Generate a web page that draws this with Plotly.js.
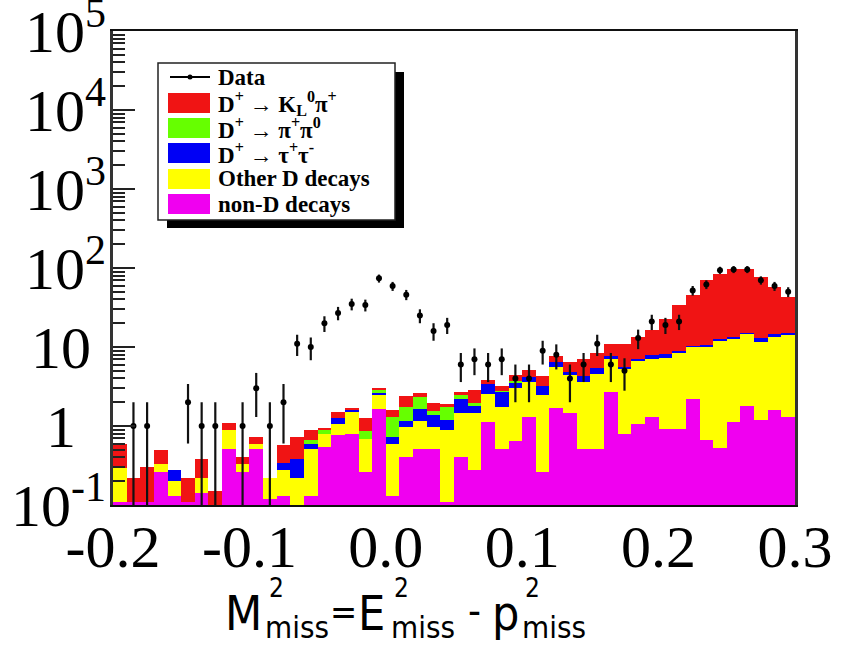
<!DOCTYPE html>
<html>
<head>
<meta charset="utf-8">
<script src="https://cdn.plot.ly/plotly-3.0.1.min.js"></script>
<style>html,body{margin:0;padding:0;background:#fff;}#chart{width:842px;height:648px;}</style>
</head>
<body>
<div id="chart"></div>
<script>
// Bin centres of the 50 histogram bins (width 0.01)
const binCenter = [-0.195,-0.185,-0.175,-0.165,-0.155,-0.145,-0.135,-0.125,-0.115,-0.105,
  -0.095,-0.085,-0.075,-0.065,-0.055,-0.045,-0.035,-0.025,-0.015,-0.005,
  0.005,0.015,0.025,0.035,0.045,0.055,0.065,0.075,0.085,0.095,
  0.105,0.115,0.125,0.135,0.145,0.155,0.165,0.175,0.185,0.195,
  0.205,0.215,0.225,0.235,0.245,0.255,0.265,0.275,0.285,0.295];

// MC components (stack order bottom -> top)
const nonD = [0.11,0.11,0.11,0.26,0.13,0.11,0.14,0,0.51,0.26,
  0.51,0.12,0.13,0,0.13,0.55,0.77,0.80,0.26,1.63,
  0.13,0.40,0.51,0.51,0.11,0.41,0.28,1.13,0.51,0.65,
  1.31,0.26,1.67,1.45,0.51,0.51,2.70,0.80,1.07,1.31,
  0.91,0.91,2.18,0.67,0.52,1.13,1.79,1.19,1.60,1.31];
const otherD = [0.18,0,0,0.07,0.07,0,0.08,0,0.38,0.07,
  0.08,0.10,0.15,0.22,0.38,0.235,0.28,0.72,0.43,0.82,
  0.46,0.58,0.64,0.47,0.78,1.04,1.17,1.41,1.25,2.35,
  2.33,2.21,3.93,2.95,3.13,4.09,4.30,4.50,5.53,5.79,
  6.39,7.54,7.72,9.43,11.38,11.47,12.71,10.51,11.9,12.89];
const tauNu = [0,0,0,0,0.08,0,0,0,0,0,
  0,0,0.06,0.16,0.08,0,0.20,0.08,0,0.19,
  0.13,0.18,0.50,0.40,0.31,0.75,0.35,0.86,0.96,0.53,
  0.56,0.77,0.80,0.46,0.66,0.85,0.80,0.30,0.50,0.80,
  0.90,0.55,0.45,0.50,0.60,0.60,0.70,1.20,1.00,0.70];
const piPi0 = [0,0,0,0,0,0,0,0,0,0,
  0,0,0,0,0.075,0.105,0,0,0.17,0.21,
  0.58,0.57,0.70,0.16,0.52,0.30,0.14,0.05,0.05,0.21,
  0,0,0,0,0,0,0,0,0,0,
  0,0,0,0,0,0,0,0,0,0];
const kLPi = [0.31,0.11,0.19,0.16,0,0.11,0.16,0.15,0.19,0.08,
  0.13,0,0.24,0.34,0.225,0.06,0.27,0.10,0.39,0.15,
  0.30,0.67,0.24,0.40,0.18,0.20,0.91,0.34,0.42,0.66,
  0.90,1.06,1.30,1.64,2.70,2.85,3.10,5.20,6.10,8.50,
  14.2,25.3,35.7,59.4,72.5,85.3,83.3,65.1,43.5,28.4];

// Data
const dataCounts = [null,1,1,null,null,2,1,1,null,1,
  3,1,2,11,10,20,27,35,34,74,
  59,46,25,16,19,6,7,6,7,4,
  4,9,8,4,6,11,6,5,13,21,
  19,21,52,62,94,96,96,70,59,50];
const dataErr = [null,1,1,null,null,1.4,1,1,null,1,
  1.7,1,1.4,3.3,3.2,4.5,5.2,5.9,5.8,8.6,
  7.7,6.8,5,4,4.4,2.4,2.6,2.4,2.6,2,
  2,3,2.8,2,2.4,3.3,2.4,2.2,3.6,4.6,
  4.4,4.6,7.2,7.9,9.7,9.8,9.8,8.4,7.7,7.1];

const xTickVals = [-0.2,-0.1,0,0.1,0.2,0.3];
const xTickText = ['-0.2','-0.1','0.0','0.1','0.2','0.3'];
const yTickVals = [0.1,1,10,100,1000,10000,100000];
const yTickText = ['10<sup>-1</sup>','1\u2007','10\u00a0','10<sup>2</sup>','10<sup>3</sup>','10<sup>4</sup>','10<sup>5</sup>'];

const legendLabels = ['Data',
  'D<sup>+</sup> → K<sub>L</sub><sup>0</sup>π<sup>+</sup>',
  'D<sup>+</sup> → π<sup>+</sup>π<sup>0</sup>',
  'D<sup>+</sup> → τ<sup>+</sup>τ<sup>-</sup>',
  'Other D decays',
  'non-D decays'];
const colors = {kl:'#f01414', pp:'#66ff00', tau:'#0000f5', other:'#ffff00', nond:'#f000f0'};

// cumulative stack levels
function cum(arrs){
  return binCenter.map((_,i)=>{let s=0; arrs.forEach(a=>s+=a[i]); return s>0?s:null;});
}
const lvM = cum([nonD]);
const lvY = cum([nonD,otherD]);
const lvB = cum([nonD,otherD,tauNu]);
const lvG = cum([nonD,otherD,tauNu,piPi0]);
const lvR = cum([nonD,otherD,tauNu,piPi0,kLPi]);

function barTrace(y,color,name){
  return {type:'bar', x:binCenter, y:y, width:0.01, name:name,
    marker:{color:color, line:{width:0}}, showlegend:false, hoverinfo:'skip'};
}
const traces = [
  barTrace(lvR,colors.kl,'KL'),
  barTrace(lvG,colors.pp,'pipi0'),
  barTrace(lvB,colors.tau,'taunu'),
  barTrace(lvY,colors.other,'Other D'),
  barTrace(lvM,colors.nond,'non-D'),
  {type:'scatter', mode:'markers', x:binCenter, y:dataCounts, name:'Data', showlegend:false,
   marker:{color:'#000', size:6},
   error_y:{type:'data', array:dataErr, visible:true, color:'#111', thickness:2.2, width:0}}
];

// plot area in pixels: x 113..795, y 31..505
const L=113,R=795,T=31,B=505;
const px=(p)=>(p-L)/(R-L);
const py=(p)=>(B-p)/(B-T);

const minorVals=[];
for(let e=-1;e<5;e++){for(let d=2;d<=9;d++){minorVals.push(d*Math.pow(10,e));}}

const shapes=[];
const annotations=[];
// legend shadow and box
shapes.push({type:'rect',xref:'paper',yref:'paper',x0:px(167),x1:px(404),y0:py(228),y1:py(72),fillcolor:'#000',line:{width:0}});
shapes.push({type:'rect',xref:'paper',yref:'paper',x0:px(158),x1:px(395),y0:py(220),y1:py(63),fillcolor:'#fff',line:{color:'#222',width:1.5}});
const rowY=[77,103,128,153,179,204];
const swatchColors=[null,colors.kl,colors.pp,colors.tau,colors.other,colors.nond];
rowY.forEach((yy,i)=>{
  if(i===0){
    shapes.push({type:'line',xref:'paper',yref:'paper',x0:px(170),x1:px(210),y0:py(yy),y1:py(yy),line:{color:'#000',width:2}});
    shapes.push({type:'circle',xref:'paper',yref:'paper',x0:px(187.5),x1:px(192.5),y0:py(yy+2.5),y1:py(yy-2.5),fillcolor:'#000',line:{width:0}});
  } else {
    shapes.push({type:'rect',xref:'paper',yref:'paper',x0:px(168),x1:px(210),y0:py(yy+10),y1:py(yy-10),fillcolor:swatchColors[i],line:{width:0}});
  }
  annotations.push({xref:'paper',yref:'paper',x:px(216),y:py(yy),xanchor:'left',yanchor:'middle',
    text:'<b>'+legendLabels[i]+'</b>',showarrow:false,font:{family:'Liberation Serif, serif',size:23,color:'#000'}});
});

// axis title pieces: M^2_miss = E^2_miss - p^2_miss
const tf='Liberation Sans Narrow, DejaVu Sans Condensed, Arial Narrow, Liberation Sans, sans-serif';
const tPieces=[
  {t:'M',x:223,y:613,s:48},{t:'2',x:267,y:588,s:26},{t:'miss',x:263,y:627,s:31},
  {t:'=',x:328,y:611,s:36},
  {t:'E',x:356,y:613,s:48},{t:'2',x:392,y:588,s:26},{t:'miss',x:389,y:627,s:31},
  {t:'-',x:466,y:611,s:40},
  {t:'p',x:490,y:613,s:48},{t:'2',x:523,y:588,s:26},{t:'miss',x:520,y:627,s:31}
];
tPieces.forEach(p=>annotations.push({xref:'paper',yref:'paper',x:px(p.x),y:py(p.y),xanchor:'left',yanchor:'middle',
  text:p.t,showarrow:false,font:{family:tf,size:p.s,color:'#000'}}));

const layout={
  width:842,height:648,
  margin:{l:L,r:842-R,t:T,b:648-B,pad:0},
  paper_bgcolor:'#fff',plot_bgcolor:'#fff',
  barmode:'overlay',bargap:0,showlegend:false,
  xaxis:{range:[-0.2,0.3],tickmode:'array',tickvals:xTickVals,ticktext:xTickText,ticks:'',
    ticklabelstandoff:-12,ticklabeloverflow:'allow',
    showline:true,mirror:true,linecolor:'#111',linewidth:2,showgrid:false,zeroline:false,automargin:false,
    tickfont:{family:'Liberation Serif, serif',size:60,color:'#000'}},
  yaxis:{type:'log',range:[-1,5.0005],tickmode:'array',tickvals:yTickVals,ticktext:yTickText,
    ticks:'inside',ticklen:22,tickwidth:2,tickcolor:'#222',ticklabelstandoff:-8,ticklabeloverflow:'allow',
    minor:{tickmode:'array',tickvals:minorVals,ticks:'inside',ticklen:12,tickwidth:2,tickcolor:'#222',showgrid:false},
    showline:true,mirror:true,linecolor:'#333',linewidth:3,showgrid:false,zeroline:false,automargin:false,
    tickfont:{family:'Liberation Serif, serif',size:60,color:'#000'}},
  shapes:shapes,annotations:annotations
};
Plotly.newPlot('chart',traces,layout,{displayModeBar:false,staticPlot:true});
</script>
</body>
</html>
